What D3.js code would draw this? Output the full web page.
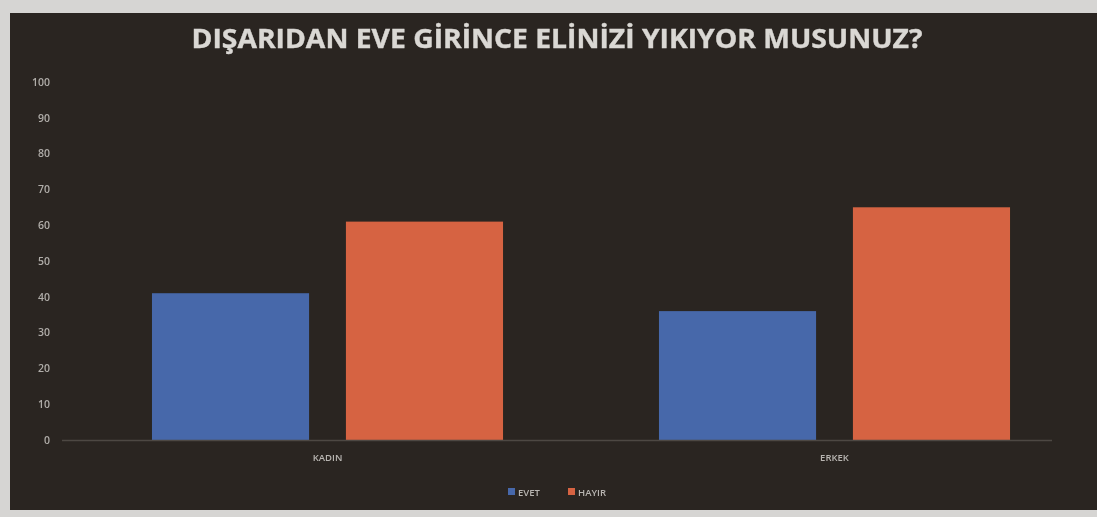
<!DOCTYPE html>
<html>
<head>
<meta charset="utf-8">
<script src="https://cdn.jsdelivr.net/npm/d3@7"></script>
<style>
  html, body { margin: 0; padding: 0; background: #d6d5d3; }
  svg { display: block; }
</style>
</head>
<body>
<svg id="chart" width="1097" height="517"></svg>
<script>
// Survey answers by gender (percent)
const categories = ["KADIN", "ERKEK"];
const seriesNames = ["EVET", "HAYIR"];
const evetValues = [41, 36];
const hayirValues = [61, 65];
const yTicks = [0, 10, 20, 30, 40, 50, 60, 70, 80, 90, 100];
const title = "DIŞARIDAN EVE GİRİNCE ELİNİZİ YIKIYOR MUSUNUZ?";

const colors = { EVET: "#4768aa", HAYIR: "#d66442" };
const rows = categories.map((c, i) => ({ cat: c, EVET: evetValues[i], HAYIR: hayirValues[i] }));

const svg = d3.select("#chart");

const defs = svg.append("defs");
defs.append("filter").attr("id", "soft")
  .append("feGaussianBlur").attr("stdDeviation", 0.6);
defs.append("filter").attr("id", "softer")
  .append("feGaussianBlur").attr("stdDeviation", 0.4);

// chart panel
svg.append("rect")
  .attr("x", 10).attr("y", 13).attr("width", 1087).attr("height", 497)
  .attr("fill", "#2a2521");

// title
svg.append("text")
  .attr("x", 557).attr("y", 48)
  .attr("text-anchor", "middle")
  .attr("font-family", "'Open Sans', 'DejaVu Sans', sans-serif")
  .attr("font-weight", 700)
  .attr("font-size", 27)
  .attr("fill", "#dad8d4")
  .attr("stroke", "#dad8d4")
  .attr("stroke-width", 0.4)
  .attr("textLength", 731)
  .attr("lengthAdjust", "spacingAndGlyphs")
  .attr("filter", "url(#soft)")
  .text(title);

// scales
const y = d3.scaleLinear().domain([0, 100]).range([440, 82]);
const x0 = d3.scaleBand().domain(categories).range([74, 1088]).padding(0);
const x1 = d3.scaleBand().domain(seriesNames).range([0, x0.bandwidth()])
  .paddingInner(0.19).paddingOuter(0.402);

// y axis labels (no line, no ticks)
const yAxis = svg.append("g")
  .attr("transform", "translate(50,0)")
  .call(d3.axisLeft(y).tickValues(yTicks).tickSize(0).tickPadding(0));
yAxis.select(".domain").remove();
yAxis.selectAll("text")
  .attr("font-family", "'Open Sans', sans-serif")
  .attr("font-size", 10.5)
  .attr("font-weight", 600)
  .attr("fill", "#b0ada9")
  .attr("filter", "url(#soft)");

// bars
const groups = svg.append("g").selectAll("g")
  .data(rows).join("g")
  .attr("transform", d => `translate(${x0(d.cat)},0)`);

groups.selectAll("rect")
  .data(d => seriesNames.map(k => ({ key: k, value: d[k] })))
  .join("rect")
  .attr("x", d => x1(d.key))
  .attr("y", d => y(d.value))
  .attr("width", x1.bandwidth())
  .attr("height", d => y(0) - y(d.value))
  .attr("fill", d => colors[d.key])
  .attr("filter", "url(#softer)");

// baseline
svg.append("line")
  .attr("x1", 62).attr("x2", 1052)
  .attr("y1", y(0) + 0.5).attr("y2", y(0) + 0.5)
  .attr("stroke", "#4d4843").attr("stroke-width", 1.5);

// category labels
const xAxis = svg.append("g")
  .attr("transform", `translate(0,${y(0)})`)
  .call(d3.axisBottom(x0).tickSize(0).tickPadding(14));
xAxis.select(".domain").remove();
xAxis.selectAll("text")
  .attr("font-family", "'Open Sans', sans-serif")
  .attr("font-size", 9.5)
  .attr("font-weight", 600)
  .attr("fill", "#b8b5b1")
  .attr("filter", "url(#soft)");

// legend
const legend = svg.append("g").attr("transform", "translate(508,492)");
const legendX = [0, 60];
seriesNames.forEach((name, i) => {
  const g = legend.append("g").attr("transform", `translate(${legendX[i]},0)`)
    .attr("filter", "url(#soft)");
  g.append("rect").attr("x", 0).attr("y", -4).attr("width", 7).attr("height", 7)
    .attr("fill", colors[name]);
  g.append("text").attr("x", 10).attr("y", 3.5)
    .attr("font-family", "'Open Sans', sans-serif")
    .attr("font-size", 9.5)
    .attr("font-weight", 600)
    .attr("fill", "#b8b5b1")
    .text(name);
});
</script>
</body>
</html>
